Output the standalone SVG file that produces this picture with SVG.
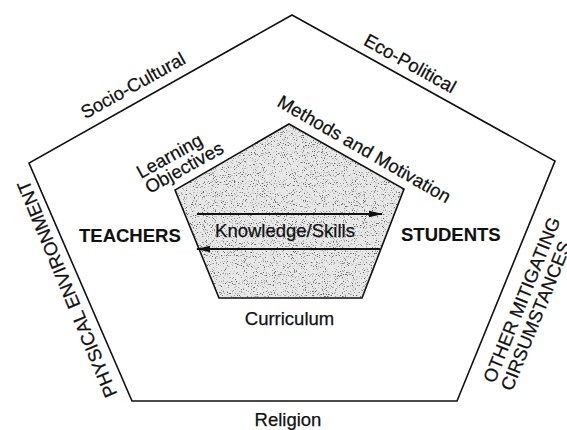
<svg xmlns="http://www.w3.org/2000/svg" width="567" height="430" viewBox="0 0 567 430">
<style>
.t{font-family:"Liberation Sans",Arial,sans-serif;font-size:18.5px;fill:#111;stroke:#111;stroke-width:0.25}
.b{font-weight:bold;stroke-width:0.1}
.edge{fill:none;stroke:#111;stroke-width:1.6;stroke-linejoin:miter}
.core{fill:none;stroke:#111;stroke-width:1.6}
.tex{fill:#e8e8e8;stroke:none}
.arr{stroke:#111;stroke-width:1.8;fill:none}
</style>
<defs>
<marker id="ah" viewBox="0 0 14 8" refX="13" refY="4" markerWidth="14" markerHeight="8" markerUnits="userSpaceOnUse" orient="auto">
<path d="M0,0.8 L14,4 L0,7.2 Z" fill="#111"/>
</marker>
<filter id="stip" x="0" y="0" width="100%" height="100%" color-interpolation-filters="sRGB">
<feTurbulence type="fractalNoise" baseFrequency="0.9" numOctaves="2" seed="7" result="n"/>
<feColorMatrix in="n" type="matrix" values="0 0 0 0 0.4  0 0 0 0 0.4  0 0 0 0 0.4  -6 0 0 0 2.5" result="d"/>
<feComposite in="d" in2="SourceAlpha" operator="in" result="dc"/>
<feMerge><feMergeNode in="SourceGraphic"/><feMergeNode in="dc"/></feMerge>
</filter>
</defs>
<rect width="567" height="430" fill="#fff"/>
<g id="context">
<polygon class="edge" points="292,15 555,161 457,401 132,401 29,163"/>
<text class="t" text-anchor="middle" transform="translate(136,91) rotate(-29)">Socio-Cultural</text>
<text class="t" text-anchor="middle" transform="translate(407,69) rotate(29)">Eco-Political</text>
<text class="t" text-anchor="middle" transform="translate(73,286.5) rotate(-112.5)">PHYSICAL ENVIRONMENT</text>
<text class="t" transform="translate(494.5,384) rotate(-68)">OTHER MITIGATING</text>
<text class="t" transform="translate(512,392) rotate(-68)">CIRSUMSTANCES</text>
<text class="t" x="288" y="426" text-anchor="middle">Religion</text>
</g>
<g id="classroom">
<polygon class="tex" filter="url(#stip)" points="289,124 404,189 362,298 219,298 175,190"/>
<polygon class="core" points="289,124 404,189 362,298 219,298 175,190"/>
<text class="t" text-anchor="middle" transform="translate(361,154.6) rotate(30)">Methods and Motivation</text>
<text class="t" transform="translate(141,179) rotate(-29)">Learning</text>
<text class="t" transform="translate(149.5,194) rotate(-29)">Objectives</text>
<text class="t" x="289.5" y="325" text-anchor="middle">Curriculum</text>
<text class="t" x="285" y="237" text-anchor="middle">Knowledge/Skills</text>
</g>
<g id="teachers">
<text class="t b" x="79" y="242">TEACHERS</text>
</g>
<g id="students">
<text class="t b" x="401" y="241">STUDENTS</text>
</g>
<g id="connectors">
<line class="arr" x1="197" y1="214" x2="382" y2="214" marker-end="url(#ah)"/>
<line class="arr" x1="380" y1="249" x2="197" y2="249" marker-end="url(#ah)"/>
</g>
</svg>
